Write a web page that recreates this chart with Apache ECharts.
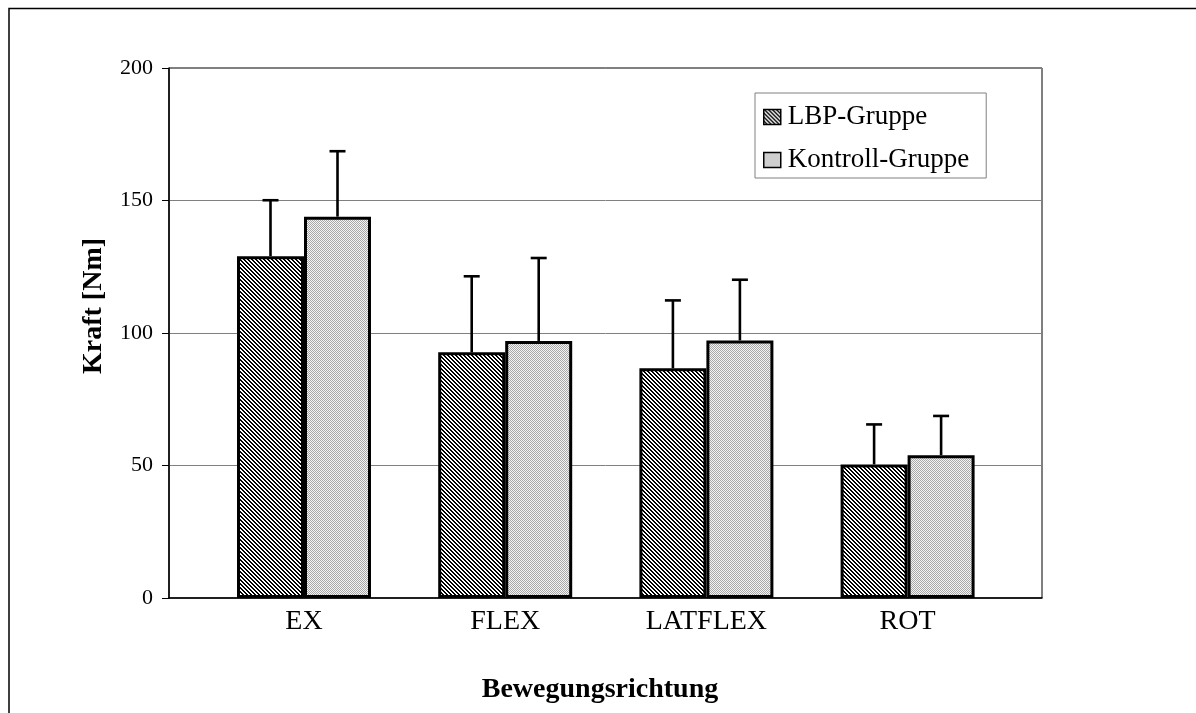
<!DOCTYPE html>
<html>
<head>
<meta charset="UTF-8">
<title>Kraft nach Bewegungsrichtung</title>
<script src="https://cdn.jsdelivr.net/npm/echarts@6/dist/echarts.min.js"></script>
<style>
body { margin: 0; padding: 0; background: #fff; }
#main { width: 1196px; height: 713px; }
</style>
</head>
<body>
<div id="main"></div>
<script>
// daten
var categories = ['EX', 'FLEX', 'LATFLEX', 'ROT'];
var lbpMean = [129.0, 92.7, 86.7, 50.4];
var lbpSD = [21.1, 28.7, 25.6, 15.1];
var kontrollMean = [143.9, 97.0, 97.2, 53.9];
var kontrollSD = [24.7, 31.3, 22.9, 14.8];
var yTicks = [0, 50, 100, 150, 200];

var serif = "'Liberation Serif', 'Times New Roman', serif";

// fuellmuster
function makeTile(w, h, fn) {
	var c = document.createElement('canvas');
	c.width = w; c.height = h;
	var ctx = c.getContext('2d');
	for (var y = 0; y < h; y++) {
		for (var x = 0; x < w; x++) {
			ctx.fillStyle = fn(x, y);
			ctx.fillRect(x, y, 1, 1);
		}
	}
	return c;
}
var hatch = makeTile(4, 4, function(x, y) {
	var d = ((x - y) % 4 + 4) % 4;
	return d < 2 ? '#000' : '#fff';
});
var dots = makeTile(2, 2, function(x, y) {
	return (x + y) % 2 === 0 ? '#a8a8a8' : '#f4f4f4';
});

function errData(mean, sd) {
	var out = [];
	for (var i = 0; i < mean.length; i++) out.push([i, mean[i], sd[i]]);
	return out;
}
function errRender(offset) {
	return function(params, api) {
		var base = api.coord([api.value(0), api.value(1)]);
		var top = api.coord([api.value(0), api.value(1) + api.value(2)]);
		var x = base[0] + offset;
		var st = { stroke: '#000', lineWidth: 2.6 };
		return {
			type: 'group',
			children: [
				{ type: 'line', shape: { x1: x, y1: base[1], x2: x, y2: top[1] }, style: st },
				{ type: 'line', shape: { x1: x - 8, y1: top[1], x2: x + 8, y2: top[1] }, style: st }
			]
		};
	};
}

var chart = echarts.init(document.getElementById('main'));
var option = {
	backgroundColor: '#fff',
	animation: false,
	graphic: [
		{ type: 'rect', shape: { x: 9, y: 8.5, width: 1200, height: 720 },
		  style: { fill: 'none', stroke: '#000', lineWidth: 1.5 }, silent: true },
		{ type: 'text', x: 94, y: 306, rotation: Math.PI / 2,
		  style: { text: 'Kraft [Nm]', font: 'bold 28px ' + serif, fill: '#000', align: 'center', verticalAlign: 'middle' } },
		{ type: 'text', x: 600, y: 690,
		  style: { text: 'Bewegungsrichtung', font: 'bold 28px ' + serif, fill: '#000', align: 'center', verticalAlign: 'middle' } }
	],
	legend: {
		orient: 'vertical',
		left: 755,
		top: 93,
		padding: [9, 17, 3, 8],
		itemGap: 13,
		itemWidth: 17,
		itemHeight: 15,
		icon: 'rect',
		backgroundColor: '#fff',
		borderColor: '#808080',
		borderWidth: 1,
		data: ['LBP-Gruppe', 'Kontroll-Gruppe'],
		itemStyle: { borderColor: '#000', borderWidth: 1.5 },
		textStyle: { fontFamily: serif, fontSize: 27, color: '#000', lineHeight: 30, padding: [0, 0, 0, 2] }
	},
	grid: [
		{ left: 169, top: 68, width: 873, height: 530, show: true, borderColor: '#000', borderWidth: 1, backgroundColor: '#fff' },
		{ left: 203.4, top: 68, width: 804.8, height: 530 }
	],
	xAxis: [
		{ gridIndex: 0, type: 'category', data: categories, axisLine: { lineStyle: { color: '#000', width: 1.5 } },
		  axisTick: { show: false }, axisLabel: { show: false } },
		{ gridIndex: 1, type: 'category', data: categories, axisLine: { show: false }, axisTick: { show: false },
		  axisLabel: { fontFamily: serif, fontSize: 28, color: '#000', margin: 10 } }
	],
	yAxis: [
		{ gridIndex: 0, type: 'value', min: yTicks[0], max: yTicks[yTicks.length - 1], interval: 50,
		  axisLine: { show: true, lineStyle: { color: '#000', width: 1.5 } },
		  axisTick: { show: true, inside: false, length: 7, lineStyle: { color: '#000' } },
		  axisLabel: { fontFamily: serif, fontSize: 22, color: '#000', margin: 16 },
		  splitLine: { lineStyle: { color: '#808080', width: 1 } } },
		{ gridIndex: 1, type: 'value', min: 0, max: 200, interval: 50, show: false, splitLine: { show: false } }
	],
	series: [
		{ name: 'LBP-Gruppe', type: 'bar', xAxisIndex: 1, yAxisIndex: 1, data: lbpMean,
		  barWidth: 67, barGap: '0%',
		  itemStyle: { color: { image: hatch, repeat: 'repeat' }, borderColor: '#000', borderWidth: 3 } },
		{ name: 'Kontroll-Gruppe', type: 'bar', xAxisIndex: 1, yAxisIndex: 1, data: kontrollMean,
		  barWidth: 67, barGap: '0%',
		  itemStyle: { color: { image: dots, repeat: 'repeat' }, borderColor: '#000', borderWidth: 3 } },
		{ name: 'LBP-SD', type: 'custom', xAxisIndex: 1, yAxisIndex: 1, z: 5,
		  renderItem: errRender(-33.5), data: errData(lbpMean, lbpSD) },
		{ name: 'Kontroll-SD', type: 'custom', xAxisIndex: 1, yAxisIndex: 1, z: 5,
		  renderItem: errRender(33.5), data: errData(kontrollMean, kontrollSD) }
	]
};
chart.setOption(option);
</script>
</body>
</html>
